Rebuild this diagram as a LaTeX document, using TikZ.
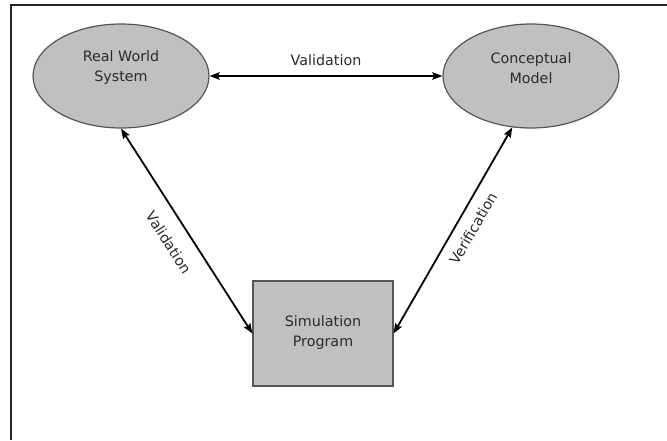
\documentclass[tikz,border=0pt]{standalone}
\usepackage{fontspec}
\setmainfont{DejaVu Sans}
\usetikzlibrary{shapes.geometric,arrows.meta}
\definecolor{shapefill}{HTML}{C0C0C0}
\definecolor{shapeline}{HTML}{555555}
\definecolor{labeltext}{HTML}{2A2A2A}
\tikzset{
  txt/.style={font=\fontsize{14.3}{20}\selectfont, text=labeltext, align=center, inner sep=0pt},
  oval/.style={ellipse, draw=shapeline, fill=shapefill, line width=1.2pt,
               minimum width=176pt, minimum height=104pt, inner sep=0pt},
  box/.style={rectangle, draw=shapeline, fill=shapefill, line width=1.2pt,
              minimum width=140pt, minimum height=105pt, inner sep=0pt},
  link/.style={line width=1.8pt, {Stealth[length=10pt,width=7.5pt,inset=1.5pt]}-{Stealth[length=10pt,width=7.5pt,inset=1.5pt]}},
  edgelbl/.style={txt, sloped}
}
\begin{document}
\begin{tikzpicture}[x=1pt,y=-1pt]
\useasboundingbox (0,0) rectangle (667,440);
% frame: top and left rules
\draw[line width=2.4pt, black!85] (11,440) -- (11,5) -- (667,5);

% the three elements of the modelling cycle
\node[oval] (rws) at (121,76) {};
\node[txt] (rwsT) at (121,68) {Real World\\System};
\node[oval] (cm) at (531,76) {};
\node[txt] (cmT) at (531,68) {Conceptual\\Model};
\node[box] (sp) at (323,333.5) {};
\node[txt] (spT) at (323,333) {Simulation\\Program};

% relations
\draw[link] (rws.east) -- node[txt, above=9pt] (v1) {Validation} (cm.west);
\draw[link] (rws.south) -- node[edgelbl, below=15pt] (v2) {Validation} (sp.west);
\draw[link] (cm.250) -- node[edgelbl, pos=0.45, below=10pt] (v3) {Verification} (sp.east);
\end{tikzpicture}
\end{document}
